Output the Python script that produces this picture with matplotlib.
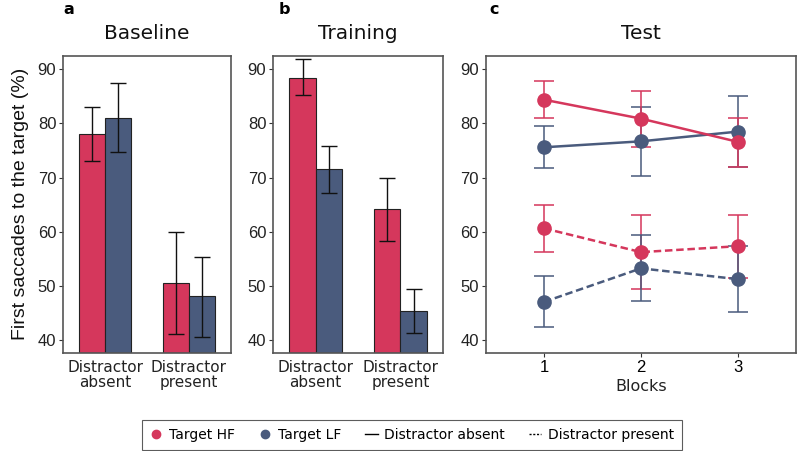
import numpy as np
import matplotlib
matplotlib.use("Agg")
import matplotlib.pyplot as plt
from matplotlib.lines import Line2D

# colours
RED = '#D5375C'
BLUE = '#4A5B7D'
FRAME = '#555555'

# bar panels: [absent, present]
conditions = ['Distractor\nabsent', 'Distractor\npresent']
base_hf = [78.0, 50.5]
base_hf_lo = [73.0, 41.1]
base_hf_hi = [83.1, 59.9]
base_lf = [81.1, 48.0]
base_lf_lo = [74.7, 40.5]
base_lf_hi = [87.4, 55.3]

train_hf = [88.5, 64.2]
train_hf_lo = [85.2, 58.3]
train_hf_hi = [91.9, 69.9]
train_lf = [71.5, 45.3]
train_lf_lo = [67.1, 41.2]
train_lf_hi = [75.9, 49.3]

# test panel, blocks 1-3
blocks = [1, 2, 3]
hf_abs = [84.4, 80.9, 76.6]
hf_abs_lo = [81.0, 75.7, 72.0]
hf_abs_hi = [87.9, 86.1, 81.1]
lf_abs = [75.6, 76.7, 78.5]
lf_abs_lo = [71.7, 70.2, 72.0]
lf_abs_hi = [79.5, 83.1, 85.0]
hf_pre = [60.6, 56.2, 57.3]
hf_pre_lo = [56.2, 49.3, 51.4]
hf_pre_hi = [64.9, 63.1, 63.1]
lf_pre = [47.0, 53.2, 51.2]
lf_pre_lo = [42.3, 47.2, 45.2]
lf_pre_hi = [51.8, 59.3, 57.3]

yticks = [40, 50, 60, 70, 80, 90]
YLIM = (37.6, 92.5)

TICKFONT = 'Liberation Sans'
TXTFONT = 'DejaVu Sans'

fig = plt.figure(figsize=(7.98, 4.51), dpi=100)
ax_a = fig.add_axes([0.0793, 0.218, 0.2098, 0.658])
ax_b = fig.add_axes([0.3425, 0.218, 0.2123, 0.658])
ax_c = fig.add_axes([0.609, 0.218, 0.3885, 0.658])


def style(ax):
    for s in ax.spines.values():
        s.set_color(FRAME)
        s.set_linewidth(1.2)
    ax.set_ylim(*YLIM)
    ax.set_yticks(yticks)
    ax.tick_params(axis='y', length=3, width=0.8, color='#333333', labelsize=12, pad=2)
    for lab in ax.get_yticklabels():
        lab.set_fontfamily(TICKFONT)
        lab.set_color('#222222')


def bars(ax, hf, hf_lo, hf_hi, lf, lf_lo, lf_hi):
    x = np.arange(1, len(conditions) + 1)
    w = 0.31
    ax.bar(x - w / 2, np.array(hf) - YLIM[0], w, bottom=YLIM[0], color=RED,
           edgecolor='#222222', linewidth=0.8, zorder=2)
    ax.bar(x + w / 2, np.array(lf) - YLIM[0], w, bottom=YLIM[0], color=BLUE,
           edgecolor='#222222', linewidth=0.8, zorder=2)
    for off, m, lo, hi in [(-w / 2, hf, hf_lo, hf_hi), (w / 2, lf, lf_lo, lf_hi)]:
        m = np.array(m)
        ax.errorbar(x + off, m, yerr=[m - np.array(lo), np.array(hi) - m], fmt='none',
                    ecolor='#111111', elinewidth=1.0, capsize=5.5, capthick=1.0, zorder=3)
    ax.set_xlim(0.5, 2.5)
    ax.set_xticks(x)
    ax.set_xticklabels(conditions, fontsize=11, fontfamily=TXTFONT, color='#222222',
                       linespacing=1.0)
    ax.tick_params(axis='x', length=0, pad=5)
    style(ax)


bars(ax_a, base_hf, base_hf_lo, base_hf_hi, base_lf, base_lf_lo, base_lf_hi)
bars(ax_b, train_hf, train_hf_lo, train_hf_hi, train_lf, train_lf_lo, train_lf_hi)

# test panel
series = [
    (lf_abs, lf_abs_lo, lf_abs_hi, BLUE, '-'),
    (hf_abs, hf_abs_lo, hf_abs_hi, RED, '-'),
    (hf_pre, hf_pre_lo, hf_pre_hi, RED, '--'),
    (lf_pre, lf_pre_lo, lf_pre_hi, BLUE, '--'),
]
for m, lo, hi, col, ls in series:
    m = np.array(m)
    ax_c.errorbar(blocks, m, yerr=[m - np.array(lo), np.array(hi) - m], fmt='none',
                  ecolor=col, elinewidth=1.3, capsize=7.5, capthick=1.3, alpha=0.85, zorder=2)
    ax_c.plot(blocks, m, color=col, linestyle=ls, linewidth=1.8,
              dashes=(3, 1.5) if ls == '--' else (None, None), zorder=3)
    ax_c.plot(blocks, m, 'o', color=col, markersize=9.5, zorder=4)
ax_c.set_xlim(0.4, 3.6)
ax_c.set_xticks(blocks)
ax_c.tick_params(axis='x', length=3, width=0.8, color='#333333', labelsize=12, pad=2)
for lab in ax_c.get_xticklabels():
    lab.set_fontfamily(TICKFONT)
ax_c.set_xlabel('Blocks', fontsize=11.5, fontfamily=TXTFONT, color='#222222', labelpad=3)
style(ax_c)

ax_a.set_ylabel('First saccades to the target (%)', fontsize=14, fontfamily=TICKFONT,
                color='#111111', labelpad=6)

for ax, t in [(ax_a, 'Baseline'), (ax_b, 'Training'), (ax_c, 'Test')]:
    ax.set_title(t, fontsize=14.5, fontfamily=TXTFONT, pad=12, color='#111111')

for x, letter in [(63 / 798, 'a'), (279 / 798, 'b'), (489 / 798, 'c')]:
    fig.text(x, 1 - 10 / 451, letter, fontsize=11.5, fontweight='bold',
             fontfamily=TXTFONT, va='center', ha='left')

handles = [
    Line2D([], [], color=RED, marker='o', linestyle='none', markersize=6),
    Line2D([], [], color=BLUE, marker='o', linestyle='none', markersize=6),
    Line2D([], [], color='black', linestyle='-', linewidth=1.0),
    Line2D([], [], color='black', linestyle=(0, (1.5, 1.2)), linewidth=1.0),
]
labels = ['Target HF', 'Target LF', 'Distractor absent', 'Distractor present']
leg = fig.legend(handles, labels, loc='center', bbox_to_anchor=(412 / 798, 1 - 435 / 451),
                 ncol=4, frameon=True, fancybox=False, handlelength=0.9,
                 handletextpad=0.5, columnspacing=1.7, borderpad=0.55,
                 prop={'family': TXTFONT, 'size': 10})
leg.get_frame().set_edgecolor('#333333')
leg.get_frame().set_linewidth(0.8)

fig.savefig('out.png', dpi=100)
